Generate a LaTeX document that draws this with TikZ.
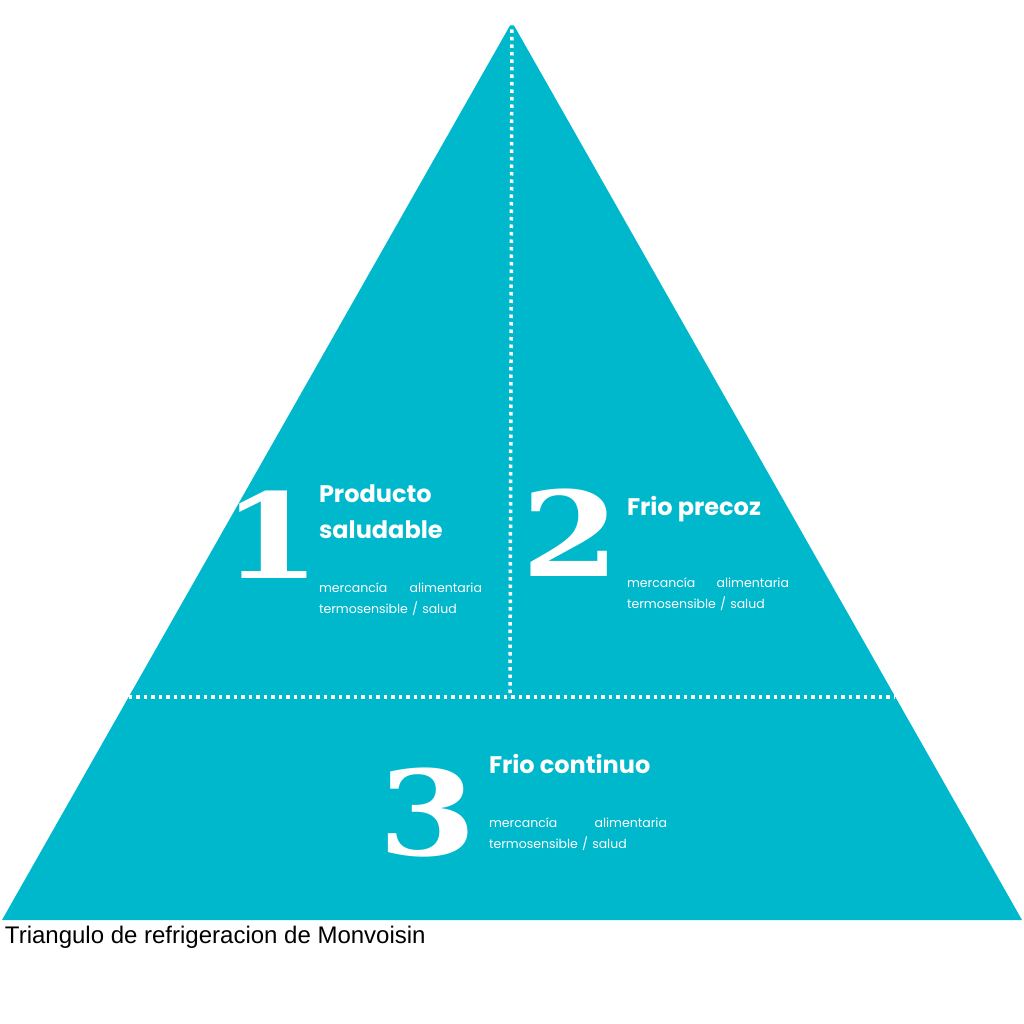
\documentclass[tikz,border=0pt]{standalone}
\usepackage{fontspec}
\usetikzlibrary{positioning,calc}
\definecolor{PyramidTeal}{HTML}{00B8CC}
\newfontfamily\digitfont{DejaVu Serif}
\newfontfamily\headfont{Poppins}
\newfontfamily\capfont{Liberation Sans}
\newcommand{\bigdigit}[1]{\scalebox{1.2}[1]{#1}}

\begin{document}
\begin{tikzpicture}[x=1pt, y=-1pt,
  every node/.style={inner sep=0pt, outer sep=0pt, text=white},
  digit/.style={anchor=base west, font=\digitfont\bfseries\fontsize{118}{118}\selectfont},
  title/.style={anchor=base west, align=left, font=\headfont\bfseries\fontsize{24}{36}\selectfont},
  note/.style={anchor=base west, align=left, font=\headfont\fontsize{12.5}{21.5}\selectfont},
  dots/.style={white, line width=3.5pt, dash pattern=on 3.5pt off 4pt}]
  \useasboundingbox (0,0) rectangle (1024,1024);
  \coordinate (apex) at (512,22);
  \coordinate (baseleft) at (2,920);
  \coordinate (baseright) at (1022,920);
  \fill[PyramidTeal] (apex) -- (baseleft) -- (baseright) -- cycle;
  % dotted split lines
  \coordinate (cutleft) at ($(apex)!0.7517!(baseleft)$);
  \coordinate (cutright) at ($(apex)!0.7517!(baseright)$);
  \coordinate (cutmid) at (510,697);
  \draw[dots] (cutleft) -- (cutright);
  \draw[dots] (apex) -- (cutmid);
  % level 1
  \node[digit] (one) at (222,578) {\bigdigit{1}};
  \node[title] (prod) at (319,538) {Producto\\saludable};
  \node[note, text width=163pt] (prodnote) at (319,592) {mercancía\hfill alimentaria\\termosensible / salud};
  % level 2
  \node[digit] (two) at (521,576) {\bigdigit{2}};
  \node[title] (early) at (627,515) {Frio precoz};
  \node[note, text width=162pt] (earlynote) at (627,587) {mercancía\hfill alimentaria\\termosensible / salud};
  % level 3
  \node[digit] (three) at (378,855) {\bigdigit{3}};
  \node[title] (cont) at (489,773) {Frio continuo};
  \node[note, text width=178pt] (contnote) at (489,827) {mercancía\hfill alimentaria\\termosensible / salud};
  % caption
  \node[anchor=base west, text=black, font=\capfont\fontsize{24}{28}\selectfont] (caption) at (5,943) {Triangulo de refrigeracion de Monvoisin};
\end{tikzpicture}
\end{document}
